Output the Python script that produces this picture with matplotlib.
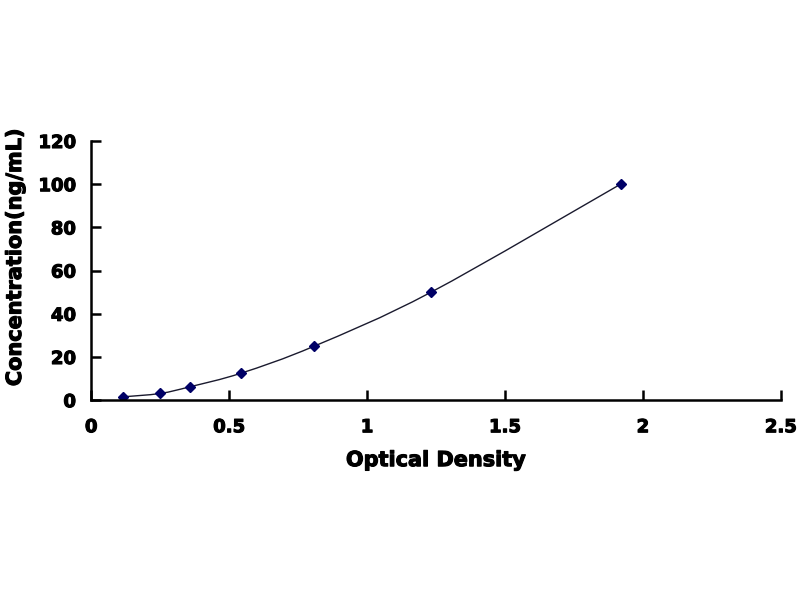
import matplotlib
matplotlib.use("Agg")
import matplotlib.pyplot as plt
from matplotlib.path import Path
from matplotlib.patches import PathPatch
import matplotlib.patheffects as pe
import numpy as np

od = [0.116, 0.25, 0.359, 0.543, 0.808, 1.232, 1.919]
conc = [1.56, 3.12, 6.25, 12.5, 25, 50, 100]
xticks = [0, 0.5, 1, 1.5, 2, 2.5]
xticklabels = ["0", "0.5", "1", "1.5", "2", "2.5"]
yticks = [0, 20, 40, 60, 80, 100, 120]

plt.rcParams['font.family'] = ['DejaVu Sans']

fig = plt.figure(figsize=(8, 6), dpi=100)
ax = fig.add_axes([0.114, 0.333, 0.862, 0.432])

# smoothed line (Excel-style Bezier smoothing through the points)
pts = np.column_stack([od, conc])
verts = [pts[0]]
codes = [Path.MOVETO]
n = len(pts)
for i in range(n - 1):
    p0 = pts[i - 1] if i > 0 else pts[i]
    p1 = pts[i]
    p2 = pts[i + 1]
    p3 = pts[i + 2] if i + 2 < n else pts[i + 1]
    c1 = p1 + (p2 - p0) / 6.0
    c2 = p2 - (p3 - p1) / 6.0
    verts += [c1, c2, p2]
    codes += [Path.CURVE4] * 3
ax.add_patch(PathPatch(Path(verts, codes), facecolor='none', edgecolor='#1a1a2e', lw=1.0))

ax.plot(od, conc, linestyle='none', marker='D', markersize=5.5, color='#000066')

ax.set_xlim(0, 2.5)
ax.set_ylim(0, 120)
ax.set_xticks(xticks)
ax.set_xticklabels(xticklabels)
ax.set_yticks(yticks)
for s in ['top', 'right']:
    ax.spines[s].set_visible(False)
for s in ['left', 'bottom']:
    ax.spines[s].set_linewidth(1.8)
ax.tick_params(direction='in', length=7, width=1.8, labelsize=13)
ax.tick_params(axis='x', pad=13)
ax.tick_params(axis='y', pad=11)
stroke = [pe.withStroke(linewidth=0.8, foreground='black')]
for lab in ax.get_xticklabels() + ax.get_yticklabels():
    lab.set_fontweight('bold')
    lab.set_path_effects(stroke)
xl = ax.set_xlabel('Optical Density', fontsize=15, fontweight='bold', labelpad=10)
yl = ax.set_ylabel('Concentration(ng/mL)', fontsize=15, fontweight='bold')
xl.set_path_effects(stroke)
yl.set_path_effects(stroke)
ax.yaxis.set_label_coords(-0.096, 0.552)

fig.savefig('out.png', dpi=100)
